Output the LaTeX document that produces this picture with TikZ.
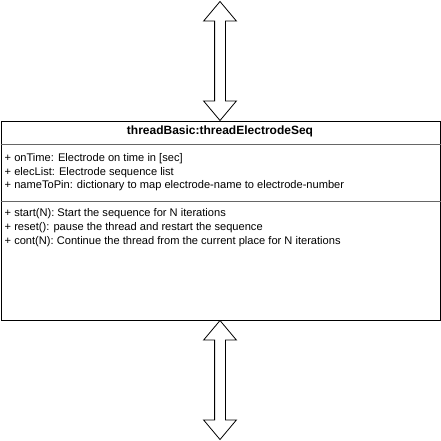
\documentclass[tikz,border=0pt]{standalone}
\usepackage{fontspec}
\setmainfont{Liberation Sans}
\usetikzlibrary{shapes.arrows}
\tikzset{classbox/.style = {draw, fill=white, line width=1pt, rectangle, minimum width=439, minimum height=199},
         darrow/.style = {draw, fill=white, line width=0.8pt, double arrow, rotate=90, inner sep=5pt,
                          minimum height=119, double arrow head extend=11, double arrow tip angle=80},
         divider/.style = {line width=0.8pt, black!60},
         member/.style = {anchor=mid west, inner sep=0pt}}

\begin{document}
\begin{tikzpicture}[x=1pt,y=-1pt,font=\fontsize{11.1}{13}\selectfont]
    \useasboundingbox (0,0) rectangle (441,440);
    \node[darrow](up)at(220,61){};
    \node[darrow](down)at(220,380){};
    \node[classbox](cls)at(220.5,220.5){};
    \node[anchor=mid, inner sep=0pt, font=\fontsize{12}{14}\selectfont\bfseries](title)at(220,132){threadBasic:threadElectrodeSeq};
    \draw[divider](cls.west|-0,144)--(cls.east|-0,144);
    \draw[divider](cls.west|-0,201)--(cls.east|-0,201);
    % attributes
    \node[member](a1)at(4.5,159){+ onTime: Electrode on time in [sec]};
    \node[member](a2)at(4.5,172.5){+ elecList: Electrode sequence list};
    \node[member](a3)at(4.5,186){+ nameToPin: dictionary to map electrode-name to electrode-number};
    % methods
    \node[member](m1)at(4.5,213.5){+ start(N): Start the sequence for N iterations};
    \node[member](m2)at(4.5,227.5){+ reset(): pause the thread and restart the sequence};
    \node[member](m3)at(4.5,241.5){+ cont(N): Continue the thread from the current place for N iterations};
\end{tikzpicture}
\end{document}
